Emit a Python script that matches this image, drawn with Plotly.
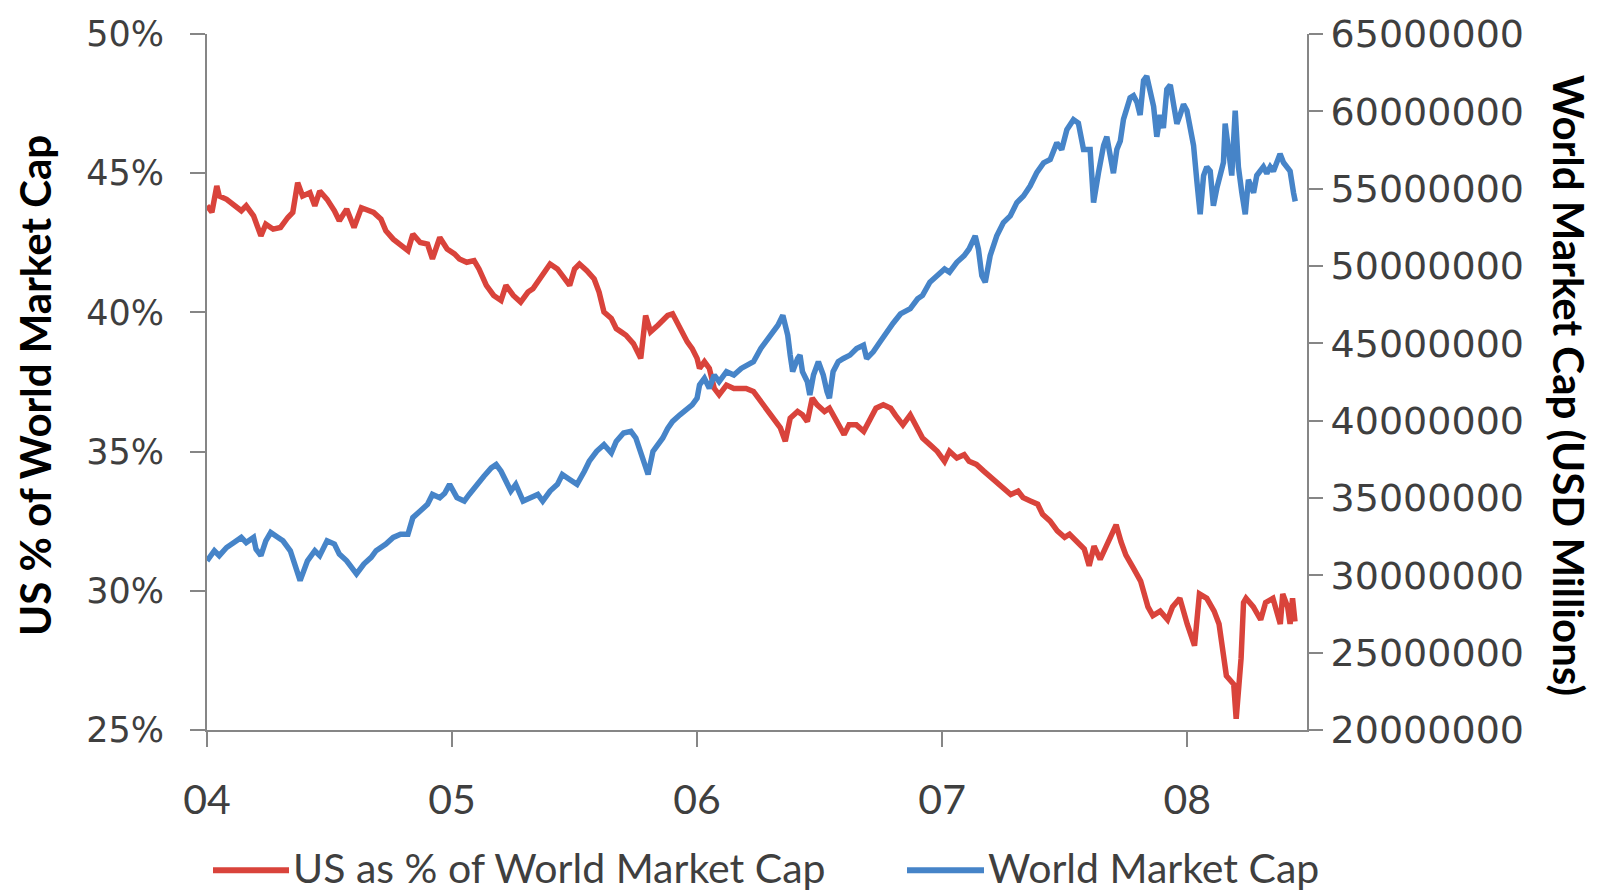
import plotly.graph_objects as go

# ---- data -------------------------------------------------------------
# US share of world equity market capitalisation (%), by fractional year
us_years = [
    2004.00, 2004.02, 2004.04, 2004.05, 2004.08, 2004.11, 2004.14, 2004.16, 2004.19, 2004.22,
    2004.24, 2004.27, 2004.30, 2004.33, 2004.35, 2004.37, 2004.39, 2004.42, 2004.44, 2004.46,
    2004.49, 2004.52, 2004.54, 2004.57, 2004.60, 2004.63, 2004.65, 2004.68, 2004.71, 2004.73,
    2004.76, 2004.79, 2004.82, 2004.84, 2004.87, 2004.90, 2004.92, 2004.95, 2004.98, 2005.01,
    2005.03, 2005.06, 2005.09, 2005.11, 2005.14, 2005.17, 2005.20, 2005.22, 2005.25, 2005.28,
    2005.31, 2005.33, 2005.36, 2005.40, 2005.43, 2005.45, 2005.48, 2005.50, 2005.52, 2005.55,
    2005.58, 2005.60, 2005.62, 2005.65, 2005.67, 2005.69, 2005.71, 2005.74, 2005.77, 2005.79,
    2005.81, 2005.84, 2005.86, 2005.88, 2005.90, 2005.93, 2005.96, 2005.98, 2006.00, 2006.01,
    2006.03, 2006.05, 2006.07, 2006.09, 2006.12, 2006.15, 2006.18, 2006.20, 2006.23, 2006.26,
    2006.28, 2006.31, 2006.34, 2006.36, 2006.38, 2006.41, 2006.43, 2006.45, 2006.47, 2006.49,
    2006.52, 2006.54, 2006.57, 2006.60, 2006.62, 2006.65, 2006.68, 2006.71, 2006.73, 2006.76,
    2006.79, 2006.81, 2006.84, 2006.87, 2006.90, 2006.92, 2006.95, 2006.98, 2007.01, 2007.03,
    2007.06, 2007.09, 2007.11, 2007.14, 2007.17, 2007.20, 2007.22, 2007.25, 2007.28, 2007.31,
    2007.33, 2007.36, 2007.39, 2007.41, 2007.44, 2007.47, 2007.50, 2007.52, 2007.55, 2007.58,
    2007.60, 2007.62, 2007.645, 2007.67, 2007.70, 2007.71, 2007.73, 2007.75, 2007.78, 2007.81,
    2007.84, 2007.86, 2007.89, 2007.92, 2007.94, 2007.97, 2008.00, 2008.03, 2008.05, 2008.08,
    2008.11, 2008.13, 2008.16, 2008.19, 2008.20, 2008.22, 2008.23, 2008.24, 2008.27, 2008.30,
    2008.32, 2008.35, 2008.38, 2008.39, 2008.41, 2008.42, 2008.43, 2008.44,
]
us_share_pct = [
    43.83, 43.60, 44.54, 44.18, 44.06, 43.83, 43.65, 43.83, 43.47, 42.75,
    43.17, 42.99, 43.05, 43.41, 43.59, 44.66, 44.18, 44.30, 43.83, 44.36,
    44.06, 43.65, 43.29, 43.71, 43.05, 43.76, 43.71, 43.59, 43.35, 42.93,
    42.63, 42.40, 42.22, 42.81, 42.51, 42.45, 41.92, 42.69, 42.28, 42.10,
    41.92, 41.80, 41.86, 41.56, 40.97, 40.61, 40.43, 40.97, 40.61, 40.37,
    40.73, 40.85, 41.20, 41.74, 41.56, 41.32, 40.97, 41.56, 41.74, 41.50,
    41.20, 40.73, 40.01, 39.78, 39.42, 39.30, 39.18, 38.88, 38.35, 39.89,
    39.30, 39.54, 39.72, 39.89, 39.95, 39.42, 38.94, 38.70, 38.35, 37.99,
    38.23, 37.99, 37.27, 37.04, 37.39, 37.27, 37.27, 37.27, 37.16, 36.80,
    36.56, 36.20, 35.85, 35.37, 36.20, 36.44, 36.32, 36.08, 36.92, 36.68,
    36.44, 36.56, 36.08, 35.61, 35.96, 35.96, 35.73, 36.20, 36.56, 36.68,
    36.56, 36.30, 35.96, 36.32, 35.85, 35.49, 35.25, 35.01, 34.65, 35.01,
    34.77, 34.89, 34.65, 34.54, 34.30, 34.06, 33.94, 33.70, 33.46, 33.58,
    33.35, 33.23, 33.11, 32.75, 32.51, 32.15, 31.92, 32.03, 31.79, 31.50,
    30.90, 31.60, 31.13, 31.59, 32.21, 32.37, 31.76, 31.28, 30.82, 30.35,
    29.42, 29.11, 29.27, 28.96, 29.42, 29.73, 28.81, 28.03, 29.89, 29.73,
    29.27, 28.81, 26.95, 26.64, 25.40, 27.57, 29.58, 29.73, 29.42, 28.96,
    29.58, 29.73, 28.81, 29.89, 29.42, 28.81, 29.73, 28.90,
]

# World equity market capitalisation (USD millions), by fractional year
world_years = [
    2004.00, 2004.03, 2004.05, 2004.08, 2004.11, 2004.14, 2004.16, 2004.19, 2004.20, 2004.22,
    2004.24, 2004.26, 2004.29, 2004.31, 2004.34, 2004.36, 2004.38, 2004.41, 2004.44, 2004.46,
    2004.49, 2004.52, 2004.54, 2004.57, 2004.60, 2004.61, 2004.64, 2004.67, 2004.69, 2004.73,
    2004.76, 2004.79, 2004.82, 2004.84, 2004.87, 2004.90, 2004.92, 2004.95, 2004.97, 2004.99,
    2005.02, 2005.05, 2005.07, 2005.10, 2005.13, 2005.16, 2005.18, 2005.20, 2005.22, 2005.24,
    2005.26, 2005.29, 2005.32, 2005.35, 2005.37, 2005.40, 2005.43, 2005.45, 2005.48, 2005.51,
    2005.54, 2005.56, 2005.59, 2005.62, 2005.65, 2005.67, 2005.70, 2005.73, 2005.75, 2005.78,
    2005.80, 2005.82, 2005.84, 2005.86, 2005.88, 2005.90, 2005.93, 2005.96, 2005.98, 2006.00,
    2006.01, 2006.03, 2006.05, 2006.07, 2006.09, 2006.12, 2006.15, 2006.18, 2006.20, 2006.23,
    2006.26, 2006.28, 2006.31, 2006.33, 2006.35, 2006.37, 2006.38, 2006.39, 2006.41, 2006.42,
    2006.43, 2006.45, 2006.46, 2006.475, 2006.495, 2006.515, 2006.53, 2006.54, 2006.555, 2006.576,
    2006.597, 2006.624, 2006.651, 2006.679, 2006.692, 2006.719, 2006.747, 2006.774, 2006.80, 2006.83,
    2006.87, 2006.90, 2006.92, 2006.95, 2006.98, 2007.01, 2007.03, 2007.06, 2007.09, 2007.11,
    2007.135, 2007.148, 2007.162, 2007.176, 2007.196, 2007.223, 2007.250, 2007.278, 2007.305, 2007.332,
    2007.359, 2007.386, 2007.414, 2007.441, 2007.468, 2007.488, 2007.509, 2007.536, 2007.556, 2007.577,
    2007.604, 2007.618, 2007.638, 2007.659, 2007.672, 2007.686, 2007.699, 2007.713, 2007.727, 2007.740,
    2007.754, 2007.767, 2007.781, 2007.795, 2007.808, 2007.822, 2007.835, 2007.849, 2007.863, 2007.876,
    2007.890, 2007.903, 2007.917, 2007.931, 2007.944, 2007.958, 2007.971, 2007.985, 2007.999, 2008.012,
    2008.026, 2008.039, 2008.053, 2008.067, 2008.080, 2008.094, 2008.107, 2008.121, 2008.135, 2008.148,
    2008.155, 2008.169, 2008.182, 2008.196, 2008.209, 2008.223, 2008.237, 2008.250, 2008.271, 2008.284,
    2008.298, 2008.311, 2008.325, 2008.339, 2008.352, 2008.379, 2008.393, 2008.407, 2008.420, 2008.434,
    2008.441,
]
world_cap_usd_mn = [
    30.94e6, 31.59e6, 31.27e6, 31.80e6, 32.12e6, 32.45e6, 32.12e6, 32.45e6, 31.69e6, 31.27e6,
    32.23e6, 32.77e6, 32.45e6, 32.23e6, 31.59e6, 30.52e6, 29.66e6, 30.94e6, 31.59e6, 31.27e6,
    32.23e6, 32.02e6, 31.37e6, 30.94e6, 30.19e6, 30.09e6, 30.73e6, 31.16e6, 31.59e6, 32.02e6,
    32.45e6, 32.66e6, 32.66e6, 33.73e6, 34.16e6, 34.59e6, 35.23e6, 35.02e6, 35.30e6, 35.88e6,
    35.02e6, 34.80e6, 35.23e6, 35.88e6, 36.41e6, 36.95e6, 37.16e6, 36.73e6, 36.09e6, 35.45e6,
    35.88e6, 34.80e6, 35.02e6, 35.23e6, 34.80e6, 35.45e6, 35.88e6, 36.52e6, 36.20e6, 35.88e6,
    36.73e6, 37.38e6, 38.02e6, 38.45e6, 37.91e6, 38.66e6, 39.20e6, 39.31e6, 38.88e6, 37.59e6,
    36.52e6, 38.02e6, 38.45e6, 38.88e6, 39.50e6, 39.95e6, 40.38e6, 40.70e6, 41.02e6, 41.45e6,
    42.31e6, 42.74e6, 42.09e6, 42.95e6, 42.52e6, 43.17e6, 42.95e6, 43.38e6, 43.59e6, 43.81e6,
    44.67e6, 45.10e6, 45.74e6, 46.17e6, 46.81e6, 45.52e6, 44.24e6, 43.17e6, 44.02e6, 44.24e6,
    43.17e6, 42.52e6, 41.66e6, 42.95e6, 43.81e6, 42.95e6, 41.88e6, 41.45e6, 43.17e6, 43.81e6,
    44.02e6, 44.24e6, 44.67e6, 44.88e6, 44.02e6, 44.45e6, 45.10e6, 45.74e6, 46.30e6, 46.90e6,
    47.24e6, 47.88e6, 48.10e6, 48.95e6, 49.38e6, 49.81e6, 49.60e6, 50.24e6, 50.67e6, 51.10e6,
    51.95e6, 51.10e6, 49.38e6, 48.95e6, 50.67e6, 51.95e6, 52.81e6, 53.24e6, 54.10e6, 54.53e6,
    55.17e6, 56.03e6, 56.67e6, 56.89e6, 57.96e6, 57.53e6, 58.81e6, 59.46e6, 59.24e6, 57.53e6,
    57.53e6, 54.10e6, 56.03e6, 57.80e6, 58.36e6, 56.97e6, 56.00e6, 57.53e6, 58.08e6, 59.48e6,
    60.32e6, 60.87e6, 61.01e6, 60.59e6, 59.76e6, 61.99e6, 62.27e6, 61.43e6, 60.32e6, 58.36e6,
    59.76e6, 58.92e6, 61.43e6, 61.71e6, 60.59e6, 59.20e6, 59.76e6, 60.45e6, 60.04e6, 58.92e6,
    57.80e6, 55.57e6, 53.34e6, 55.85e6, 56.41e6, 56.13e6, 53.90e6, 55.02e6, 55.85e6, 56.69e6,
    59.20e6, 57.53e6, 55.85e6, 60.04e6, 56.41e6, 54.74e6, 53.34e6, 55.57e6, 54.74e6, 55.85e6,
    56.13e6, 56.41e6, 55.99e6, 56.41e6, 56.13e6, 57.25e6, 56.69e6, 56.41e6, 56.13e6, 54.74e6,
    54.18e6,
]

year_ticks = [2004, 2005, 2006, 2007, 2008]
year_labels = ["04", "05", "06", "07", "08"]
pct_ticks = [25, 30, 35, 40, 45, 50]
pct_labels = ["25%", "30%", "35%", "40%", "45%", "50%"]

series_names = ["US as % of World Market Cap", "World Market Cap"]
left_title = "US % of World Market Cap"
right_title = "World Market Cap (USD Millions)"

# ---- styling ----------------------------------------------------------
RED = "#D9433B"
BLUE = "#4684C8"
AXIS = "#868686"
TEXT = "#3F3F3F"
HUMANIST = "Lato, Carlito, Calibri, sans-serif"
WIDE = "DejaVu Sans, Verdana, sans-serif"

W, H = 1597, 896
ML, MR, MT, MB = 207, 290, 30, 166
PW, PH = W - ML - MR, H - MT - MB


def px(x):
    return (x - ML) / PW


def py(y):
    return 1 - (y - MT) / PH


fig = go.Figure()
fig.add_trace(go.Scatter(
    x=us_years, y=us_share_pct, name=series_names[0], mode="lines",
    line=dict(color=RED, width=5.5), yaxis="y", hoverinfo="skip",
))
fig.add_trace(go.Scatter(
    x=world_years, y=world_cap_usd_mn, name=series_names[1], mode="lines",
    line=dict(color=BLUE, width=5.5), yaxis="y2", hoverinfo="skip",
))

axis_common = dict(
    showline=True, linecolor=AXIS, linewidth=2, showgrid=False, zeroline=False,
    ticks="outside", tickcolor=AXIS, tickwidth=2,
)

fig.update_layout(
    width=W, height=H,
    margin=dict(l=ML, r=MR, t=MT, b=MB),
    paper_bgcolor="white", plot_bgcolor="white",
    showlegend=False,
    xaxis=dict(
        **axis_common, range=[2004, 2008.489], tickvals=year_ticks, ticktext=year_labels,
        ticklen=15, tickfont=dict(family=HUMANIST, size=41, color=TEXT), ticklabelstandoff=18,
    ),
    yaxis=dict(
        **axis_common, range=[25, 50], tickvals=pct_ticks, ticktext=pct_labels,
        ticklen=15, tickfont=dict(family=WIDE, size=35, color=TEXT), ticklabelstandoff=19,
    ),
    yaxis2=dict(
        **axis_common, overlaying="y", side="right", range=[20e6, 65e6], dtick=5e6,
        tick0=20e6, tickformat="d", ticklen=14,
        tickfont=dict(family=WIDE, size=38, color=TEXT), ticklabelstandoff=0,
    ),
)

# axis titles
fig.add_annotation(
    text=f"<b>{left_title}</b>", xref="paper", yref="paper", x=px(35), y=py(384),
    xanchor="center", yanchor="middle", textangle=-90, showarrow=False,
    font=dict(family=HUMANIST, size=42, color="#000000"),
)
fig.add_annotation(
    text=f"<b>{right_title}</b>", xref="paper", yref="paper", x=px(1569), y=py(383),
    xanchor="center", yanchor="middle", textangle=90, showarrow=False,
    font=dict(family=HUMANIST, size=42, color="#000000"),
)

# legend below the plot
LEGEND_Y = 868
legend_items = [
    (series_names[0], RED, 213, 289),
    (series_names[1], BLUE, 907, 984),
]
for name, color, x0, x1 in legend_items:
    fig.add_shape(
        type="line", xref="paper", yref="paper", x0=px(x0), x1=px(x1),
        y0=py(LEGEND_Y + 3), y1=py(LEGEND_Y + 3),
        line=dict(color=color, width=6),
    )
    fig.add_annotation(
        text=name, xref="paper", yref="paper", x=px(x1 + 3), y=py(LEGEND_Y),
        xanchor="left", yanchor="middle", showarrow=False, borderpad=0,
        font=dict(family=HUMANIST, size=41, color=TEXT),
    )

fig.write_html("out.html")
